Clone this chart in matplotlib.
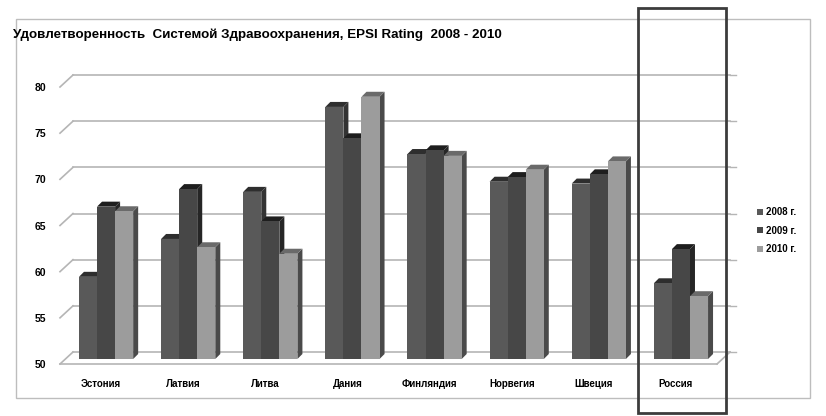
import matplotlib.pyplot as plt
import matplotlib.transforms as mtransforms
from matplotlib.patches import Polygon, Rectangle
import numpy as np

plt.rcParams['font.family'] = ['Liberation Sans', 'DejaVu Sans']

countries = ['Эстония', 'Латвия', 'Литва', 'Дания', 'Финляндия', 'Норвегия', 'Швеция', 'Россия']
years = ['2008 г.', '2009 г.', '2010 г.']
v2008 = [58.9, 63.0, 68.1, 77.3, 72.2, 69.2, 69.0, 58.2]
v2009 = [66.5, 68.4, 64.9, 73.9, 72.6, 69.7, 70.0, 61.9]
v2010 = [66.0, 62.1, 61.4, 78.4, 72.0, 70.5, 71.4, 56.8]
yticks = [50, 55, 60, 65, 70, 75, 80]

front = ['#595959', '#474747', '#9c9c9c']
side = ['#333333', '#262626', '#4a4a4a']
top = ['#2e2e2e', '#1e1e1e', '#6a6a6a']

W, H = 826, 416
fig = plt.figure(figsize=(W / 100, H / 100), dpi=100)

def fx(px):
    return px / W

def fy(py):
    return 1 - py / H

# chart border
fig.add_artist(Rectangle((fx(16), fy(398)), fx(810) - fx(16), fy(19) - fy(398),
                         transform=fig.transFigure, fill=False, ec='#bdbdbd', lw=1))

ax = fig.add_axes([fx(60), fy(364), fx(717) - fx(60), fy(87) - fy(364)])
ax.set_xlim(0, len(countries))
ax.set_ylim(50, 80)
for s in ax.spines.values():
    s.set_visible(False)
ax.set_facecolor('none')

back = mtransforms.offset_copy(ax.transData, fig=fig, x=13, y=12, units='dots')
bar_front = mtransforms.offset_copy(ax.transData, fig=fig, x=5, y=5, units='dots')

def fig_line(p, q, **kw):
    fig.add_artist(plt.Line2D([p[0] / W, q[0] / W], [p[1] / H, q[1] / H],
                              transform=fig.transFigure, **kw))

# back wall gridlines and left diagonals
n = len(countries)
for t in yticks:
    ax.plot([0, n], [t, t], color='#b5b5b5', lw=1.2, transform=back, clip_on=False)
    fig_line(ax.transData.transform((0, t)), back.transform((0, t)), color='#b5b5b5', lw=1.2)
    pr = back.transform((n, t))
    fig_line(pr, pr + np.array([6, 0]), color='#b5b5b5', lw=1)
# floor front edge
ax.plot([0, n], [50, 50], color='#b5b5b5', lw=1.2, clip_on=False)
fig_line(ax.transData.transform((n, 50)), back.transform((n, 50)), color='#b5b5b5', lw=1.2)

# bars with pseudo-3D faces
bw = 0.22
depth = 5
series = [v2008, v2009, v2010]
x = np.arange(n) + 0.5
for i in range(n):
    for j, vals in enumerate(series):
        xl = x[i] + (j - 1.5) * bw
        xr = xl + bw
        v = vals[i]
        bl = np.array(bar_front.transform((xl, 50)))
        tr = np.array(bar_front.transform((xr, v)))
        tl = np.array(bar_front.transform((xl, v)))
        br = np.array(bar_front.transform((xr, 50)))
        d = np.array([depth, depth])
        z = 3 + j * 0.1
        fig.add_artist(Polygon(np.array([br, tr, tr + d, br + d]) / [W, H], closed=True,
                               transform=fig.transFigure, fc=side[j], ec='none', zorder=z))
        fig.add_artist(Polygon(np.array([tl, tr, tr + d, tl + d]) / [W, H], closed=True,
                               transform=fig.transFigure, fc=top[j], ec='none', zorder=z))
        fig.add_artist(Polygon(np.array([bl, br, tr, tl]) / [W, H], closed=True,
                               transform=fig.transFigure, fc=front[j], ec='none', zorder=z + 0.05))

ax.set_xticks(x)
ax.set_xticklabels(countries, fontsize=7, fontweight='bold')
ax.set_yticks(yticks)
ax.set_yticklabels([str(t) for t in yticks], fontsize=7.5, fontweight='bold')
ax.tick_params(length=0, pad=10)
ax.tick_params(axis='x', pad=11)

fig.text(fx(13), fy(35), 'Удовлетворенность  Системой Здравоохранения, EPSI Rating  2008 - 2010',
         fontsize=9.6, fontweight='bold', va='center', ha='left')

# legend
for j, lab in enumerate(years):
    yy = 212 + j * 18.5
    fig.add_artist(Rectangle((fx(757), fy(yy + 3)), 6 / W, 6 / H, transform=fig.transFigure,
                             fc=front[j], ec='none'))
    fig.text(fx(766), fy(yy), lab, fontsize=7, fontweight='bold', va='center', ha='left')

# highlight box around Russia
fig.add_artist(Rectangle((fx(638), fy(413)), fx(726) - fx(638), fy(8) - fy(413),
                         transform=fig.transFigure, fill=False, ec='#3c3c3c', lw=2, zorder=10))

fig.savefig('out.png', dpi=100)
